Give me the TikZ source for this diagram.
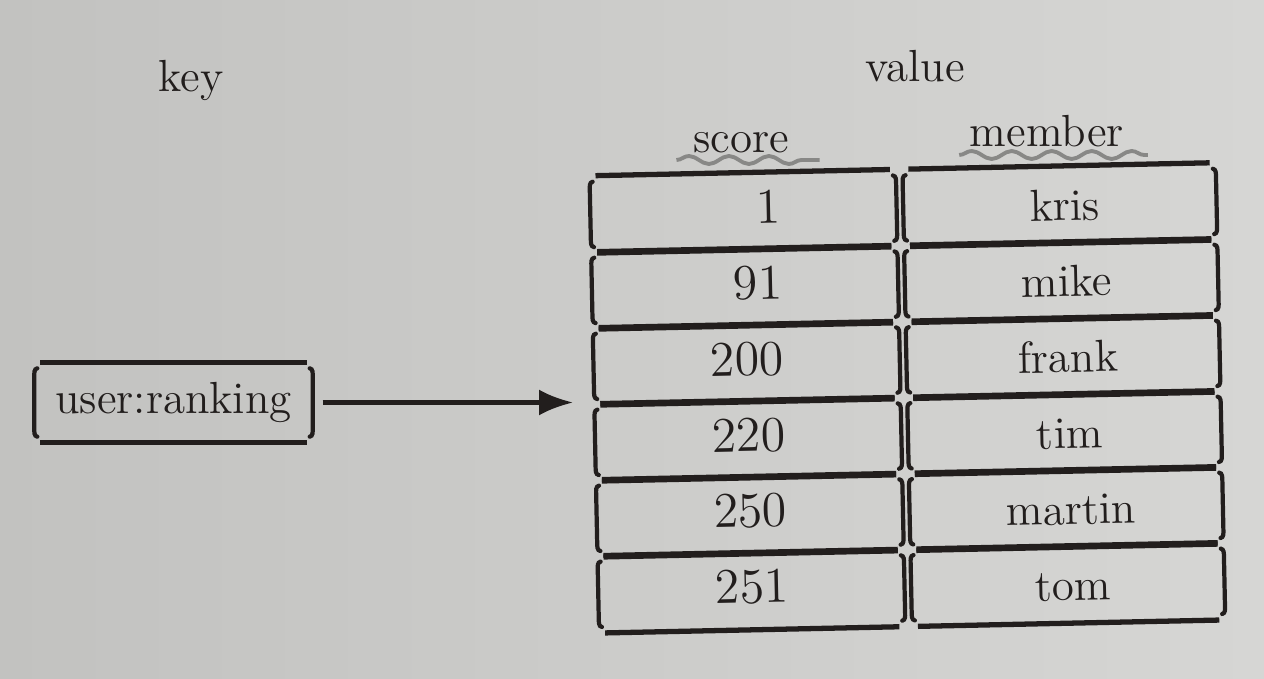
\documentclass[tikz,border=0pt]{standalone}
\usetikzlibrary{arrows.meta,decorations.pathmorphing}
\definecolor{ink}{RGB}{34,30,29}
\definecolor{paperA}{RGB}{194,194,192}
\definecolor{paperB}{RGB}{214,214,212}
\definecolor{pencil}{RGB}{136,136,134}
\tikzset{
    hline/.style={draw=ink,line width=1.5pt},
    vline/.style={draw=ink,line width=1.2pt,line cap=round},
    word/.style={text=ink,inner sep=0pt,font=\fontsize{12.8}{15}\selectfont},
    num/.style={text=ink,inner sep=0pt,font=\fontsize{14.2}{17}\selectfont},
    cell/.style={minimum height=0.76cm,inner sep=0pt},
    squig/.style={draw=pencil,line width=1.1pt,decorate,
        decoration={snake,segment length=0.4cm,amplitude=0.04cm}},
    arr/.style={draw=ink,line width=1.2pt,-{Latex[length=0.34cm,width=0.26cm]}}
}
% box with bracket-like sides
\newcommand\brackbox[1]{%
    \draw[hline] ([xshift=0.06cm]#1.north west) -- ([xshift=-0.06cm]#1.north east);
    \draw[hline] ([xshift=0.06cm]#1.south west) -- ([xshift=-0.06cm]#1.south east);
    \draw[vline] ([xshift=0.03cm,yshift=-0.06cm]#1.north west)
        to[out=190,in=90] ([yshift=-0.14cm]#1.north west)
        -- ([yshift=0.14cm]#1.south west)
        to[out=-90,in=170] ([xshift=0.03cm,yshift=0.06cm]#1.south west);
    \draw[vline] ([xshift=-0.03cm,yshift=-0.06cm]#1.north east)
        to[out=-10,in=90] ([yshift=-0.14cm]#1.north east)
        -- ([yshift=0.14cm]#1.south east)
        to[out=-90,in=10] ([xshift=-0.03cm,yshift=0.06cm]#1.south east);
}
\begin{document}
\begin{tikzpicture}
    \useasboundingbox (0,0) rectangle (12.64,6.78);
    \shade[left color=paperA,right color=paperB] (0,0) rectangle (12.64,6.78);

    \node[word,anchor=base] (keylbl) at (1.91,5.86) {key};
    \node[word,anchor=base] (vallbl) at (9.15,5.96) {value};
    \node[word,anchor=base] (scorelbl) at (7.41,5.25) {score};
    \node[word,anchor=base] (memberlbl) at (10.47,5.31) {member};
    \draw[squig] ([xshift=-0.16cm,yshift=-0.07cm]scorelbl.base west)
        -- ([xshift=0.30cm,yshift=-0.07cm]scorelbl.base east);
    \draw[squig] ([xshift=-0.10cm,yshift=-0.08cm]memberlbl.base west)
        -- ([xshift=0.23cm,yshift=-0.08cm]memberlbl.base east);

    \node[word,minimum width=2.77cm,minimum height=0.79cm] (ukey) at (1.735,2.755) {user:ranking};
    \brackbox{ukey}

    \begin{scope}[rotate around={1.2:(9.0,2.78)},transform shape]
        \foreach \sc/\mb [count=\i] in {1/kris,91/mike,200/frank,220/tim,250/martin,251/tom}{
            \node[cell,minimum width=3.05cm] (s\i) at (7.475,{4.70-0.76*(\i-1)}) {};
            \node[cell,minimum width=3.12cm] (c\i) at (10.64,{4.70-0.76*(\i-1)}) {};
            \brackbox{s\i}
            \brackbox{c\i}
            \node[num,anchor=east] (n\i) at ([xshift=0.38cm,yshift=0.04cm]s\i.center) {\sc};
            \node[word,anchor=base] (w\i) at ([xshift=0.05cm,yshift=-0.16cm]c\i.center) {\mb};
        }
    \end{scope}

    \coordinate (tip) at (5.73,2.77);
    \draw[arr] ([xshift=0.1cm]ukey.east) -- (tip |- ukey.east);
\end{tikzpicture}
\end{document}
